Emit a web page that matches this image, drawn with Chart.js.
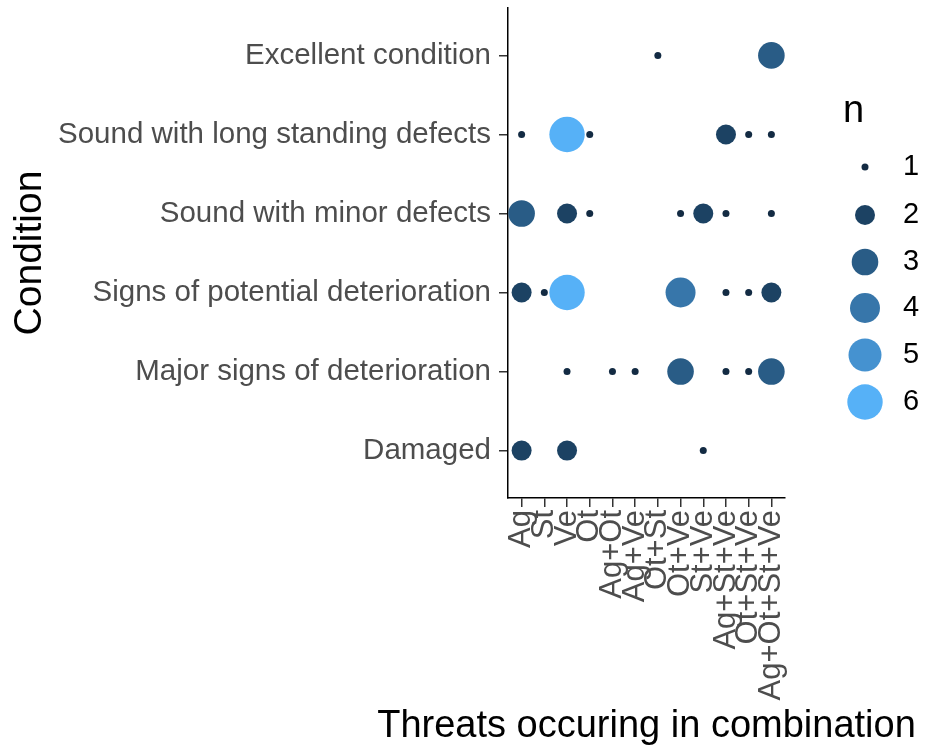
<!DOCTYPE html>
<html>
<head>
<meta charset="utf-8">
<script src="https://cdn.jsdelivr.net/npm/chart.js@4"></script>
<style>
  body { margin: 0; background: #fff; }
</style>
</head>
<body>
<canvas id="myChart" width="925" height="749"></canvas>
<script>
// x categories (threat combinations) and y categories (condition, bottom to top)
let threats = ['Ag', 'St', 'Ve', 'Ot', 'Ag+Ot', 'Ag+Ve', 'Ot+St', 'Ot+Ve', 'St+Ve', 'Ag+St+Ve', 'Ot+St+Ve', 'Ag+Ot+St+Ve'];
let conditions = ['Damaged', 'Major signs of deterioration', 'Signs of potential deterioration',
  'Sound with minor defects', 'Sound with long standing defects', 'Excellent condition'];

// counts per condition, one value per threat (0 = no point)
let damaged      = [2, 0, 2, 0, 0, 0, 0, 0, 1, 0, 0, 0];
let majorSigns   = [0, 0, 1, 0, 1, 1, 0, 3, 0, 1, 1, 3];
let potential    = [2, 1, 6, 0, 0, 0, 0, 4, 0, 1, 1, 2];
let minorDefects = [3, 0, 2, 1, 0, 0, 0, 1, 2, 1, 0, 1];
let longStanding = [1, 0, 6, 1, 0, 0, 0, 0, 0, 2, 1, 1];
let excellent    = [0, 0, 0, 0, 0, 0, 1, 0, 0, 0, 0, 3];
let counts = [damaged, majorSigns, potential, minorDefects, longStanding, excellent];

let levels = [1, 2, 3, 4, 5, 6];

// styles for each n
let colours = ['#132B43', '#1C4263', '#295C86', '#3776AA', '#4592D0', '#56B1F7'];
let radii = [3.5, 10, 13.3, 15, 16.5, 17.7];

let fontFamily = '"Liberation Sans", Arial, sans-serif';
let xTitle = 'Threats occuring in combination';

let datasets = levels.map((n, i) => {
  let pts = [];
  counts.forEach((row, yi) => {
    row.forEach((c, xi) => {
      if (c === n) pts.push({ x: xi, y: yi });
    });
  });
  return {
    label: String(n),
    data: pts,
    pointRadius: radii[i],
    pointHoverRadius: radii[i],
    backgroundColor: colours[i],
    borderWidth: 0,
    pointStyle: 'circle'
  };
});

// size legend on the right + x axis title (wider than the plot area)
let extras = {
  id: 'extras',
  afterDraw(chart) {
    let c = chart.ctx;
    let area = chart.chartArea;
    c.save();
    c.fillStyle = '#000';
    c.font = '38px ' + fontFamily;
    c.textAlign = 'center';
    c.textBaseline = 'middle';
    c.fillText(xTitle, (area.left + area.right) / 2, 727);

    c.textAlign = 'left';
    c.textBaseline = 'alphabetic';
    c.fillText('n', 843, 122);
    let rowY = [167, 215, 262, 308, 355, 402];
    c.font = '29px ' + fontFamily;
    c.textBaseline = 'middle';
    levels.forEach((n, i) => {
      c.beginPath();
      c.fillStyle = colours[i];
      c.arc(865, rowY[i], radii[i], 0, Math.PI * 2);
      c.fill();
      c.fillStyle = '#000';
      c.fillText(String(n), 903, rowY[i]);
    });
    c.restore();
  }
};

let noPad = (s) => { s.paddingTop = 0; s.paddingBottom = 0; s.paddingLeft = 0; s.paddingRight = 0; };

let ctx = document.getElementById('myChart').getContext('2d');

let myChart = new Chart(ctx, {
  type: 'scatter',
  data: { datasets: datasets },
  plugins: [extras],
  options: {
    responsive: false,
    animation: false,
    events: [],
    layout: { autoPadding: false, padding: { top: 8, right: 140, bottom: 0, left: 0 } },
    plugins: {
      legend: { display: false },
      tooltip: { enabled: false }
    },
    scales: {
      x: {
        type: 'linear',
        min: -0.6,
        max: 11.6,
        afterBuildTicks: (s) => { s.ticks = threats.map((t, i) => ({ value: i })); },
        afterFit: (s) => { s.height = 251; noPad(s); },
        ticks: {
          autoSkip: false,
          minRotation: 90,
          maxRotation: 90,
          padding: 3,
          color: '#4D4D4D',
          font: { family: fontFamily, size: 31 },
          callback: (v) => threats[v]
        },
        grid: { drawOnChartArea: false, tickLength: 9, color: '#333333', lineWidth: 1.5 },
        border: { color: '#000', width: 1.5 }
      },
      y: {
        type: 'linear',
        min: -0.6,
        max: 5.6,
        afterBuildTicks: (s) => { s.ticks = conditions.map((c, i) => ({ value: i })); },
        afterFit: (s) => { s.width = 508; noPad(s); },
        ticks: {
          padding: 8,
          color: '#4D4D4D',
          font: { family: fontFamily, size: 29.5 },
          callback: (v) => conditions[v]
        },
        grid: { drawOnChartArea: false, tickLength: 9, color: '#333333', lineWidth: 1.5 },
        border: { color: '#000', width: 1.5 },
        title: {
          display: true,
          text: 'Condition',
          color: '#000',
          font: { family: fontFamily, size: 39, lineHeight: 1.2 },
          padding: { top: 7, bottom: 0 }
        }
      }
    }
  }
});
</script>
</body>
</html>
